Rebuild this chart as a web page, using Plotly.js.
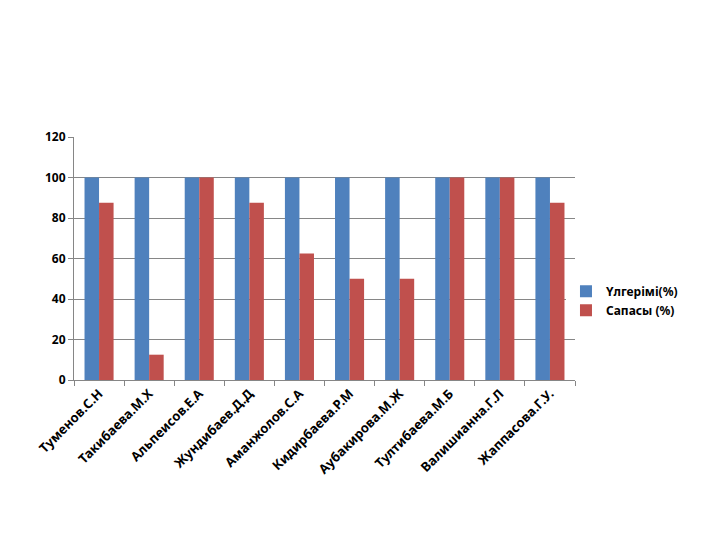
<!DOCTYPE html>
<html><head><meta charset="utf-8">
<script src="https://cdn.plot.ly/plotly-3.0.1.min.js"></script>
<style>body{margin:0;background:#fff}</style>
</head><body>
<div id="chart" style="width:720px;height:540px"></div>
<script>
var categories = ["Туменов.С.Н","Такибаева.М.Х","Альпеисов.Е.А","Жундибаев.Д.Д","Аманжолов.С.А","Кидирбаева.Р.М","Аубакирова.М.Ж","Тултибаева.М.Б","Валишианна.Г.Л","Жаппасова.Г.У."];
var seriesNames = ["Үлгерімі(%)","Сапасы (%)"];
var ulgerimi = [100,100,100,100,100,100,100,100,100,100];
var sapasy = [87.5,12.5,100,87.5,62.5,50,50,100,100,87.5];
var yTicks = [0,20,40,60,80,100,120];

var fontFam = "Noto Sans, Liberation Sans, sans-serif";
var data = [
  {type:"bar", name:seriesNames[0], x:categories, y:ulgerimi, marker:{color:"#4F81BD"}},
  {type:"bar", name:seriesNames[1], x:categories, y:sapasy, marker:{color:"#C0504D"}}
];
var layout = {
  width:720, height:540,
  margin:{l:74, r:145, t:137, b:160},
  barmode:"group", bargap:0.42, bargroupgap:0,
  paper_bgcolor:"#fff", plot_bgcolor:"#fff",
  showlegend:true,
  legend:{x:0.982, y:0.425, xanchor:"left", yanchor:"top", font:{family:fontFam, size:12, color:"#000", weight:"bold"}, itemwidth:30},
  xaxis:{type:"category", tickangle:-45, tickfont:{family:fontFam, size:13, color:"#000", weight:"bold"},
    showline:true, linecolor:"#868686", ticks:"outside", ticklen:5, tickcolor:"#868686", tickson:"boundaries", showgrid:false},
  yaxis:{range:[0,120], tickvals:yTicks, tickfont:{family:fontFam, size:12, color:"#000", weight:"bold"},
    showline:true, linecolor:"#868686", ticks:"outside", ticklen:5, tickcolor:"#868686",
    gridcolor:"#868686", gridwidth:1, zeroline:false}
};
Plotly.newPlot("chart", data, layout, {displayModeBar:false});
</script>
</body></html>
